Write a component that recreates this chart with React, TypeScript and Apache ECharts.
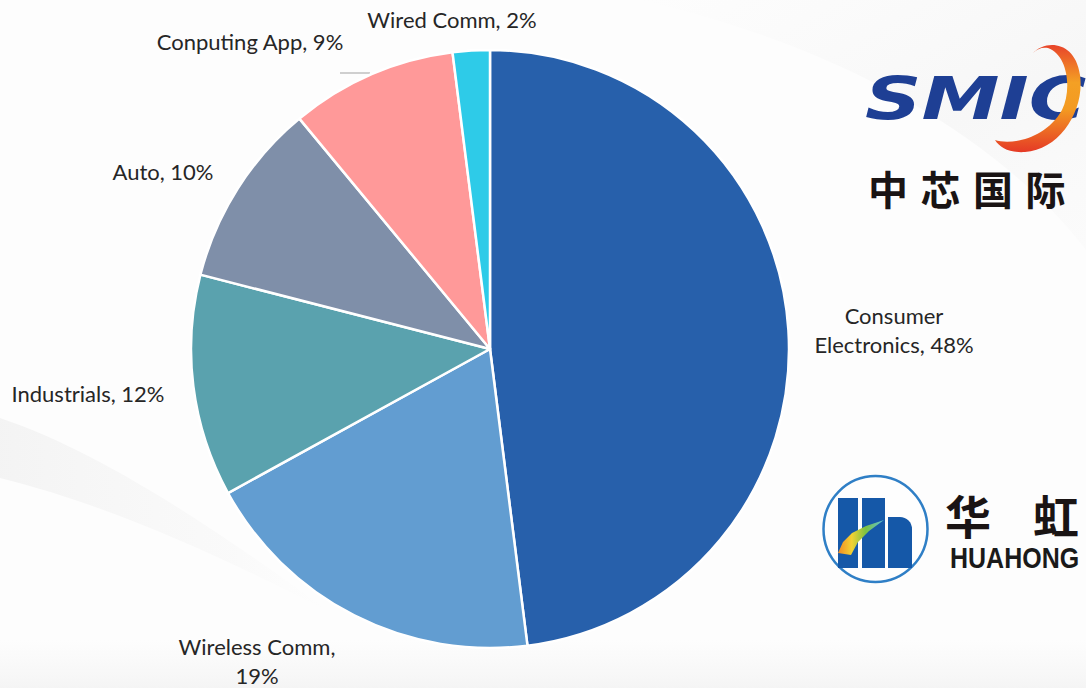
import React, { useEffect, useRef } from 'react';
import * as echarts from 'echarts';

// ---------- data ----------
const categories = ['Consumer Electronics', 'Wireless Comm', 'Industrials', 'Auto', 'Conputing App', 'Wired Comm'];
const shares = [48, 19, 12, 10, 9, 2];
const sliceColors = ['#2760AB', '#629DD1', '#5AA2AE', '#7F8FA9', '#FF9999', '#2ECBE8'];
// where each label wraps (token replaced by a line break), null = single line
const labelBreaks: (string | null)[] = [' ', ', ', null, null, null, null];
// label anchor (centre of text block)
const labelPos: [number, number][] = [
  [894, 330],
  [257, 661],
  [88, 393],
  [163, 171],
  [250, 41],
  [452, 19],
];
const smicChars = ['中', '芯', '国', '际'];

// ---------- shapes ----------
const arcPath =
  'M1033 53 C1045 40 1075 40 1080 75 C1085 110 1060 150 1025 152 C1010 153 1000 148 995 140 ' +
  'C1010 145 1045 140 1062 110 C1072 90 1068 55 1048 48 C1042 47 1037 49 1033 53 Z';
const swooshPath =
  'M0 418 C110 455 230 540 335 615 C230 560 110 505 0 478 Z';
const topSwooshPath =
  'M640 0 L1086 0 L1086 250 C1010 150 860 50 640 0 Z';

let registered = false;
function registerShapes() {
  if (registered) return;
  registered = true;
  echarts.graphic.registerShape('smicArc', echarts.graphic.extendPath(arcPath, {}) as any);
  echarts.graphic.registerShape('swooshA', echarts.graphic.extendPath(swooshPath, {}) as any);
  echarts.graphic.registerShape('swooshB', echarts.graphic.extendPath(topSwooshPath, {}) as any);
}

const LABEL_FONT = 'Lato, "Open Sans", sans-serif';

export default function App() {
  const ref = useRef<HTMLDivElement>(null);

  useEffect(() => {
    if (!ref.current) return;
    registerShapes();
    const chart = echarts.init(ref.current, undefined, { renderer: 'svg' });

    const data = categories.map((name, i) => ({
      name,
      value: shares[i],
      itemStyle: { color: sliceColors[i] },
    }));

    const graphic: any[] = [
      // background swooshes
      {
        type: 'swooshB', x: 0, y: 0, z: -10, silent: true,
        style: {
          fill: { type: 'linear', x: 0, y: 0, x2: 1, y2: 1, colorStops: [
            { offset: 0, color: 'rgba(238,238,238,0)' },
            { offset: 0.6, color: 'rgba(236,236,236,0.35)' },
            { offset: 1, color: 'rgba(240,240,240,0.15)' },
          ] },
        },
      },
      {
        type: 'swooshA', x: 0, y: 0, z: -10, silent: true,
        style: {
          fill: { type: 'linear', x: 0, y: 0, x2: 1, y2: 0, colorStops: [
            { offset: 0, color: 'rgba(232,232,232,0.45)' },
            { offset: 0.7, color: 'rgba(242,242,242,0.3)' },
            { offset: 1, color: 'rgba(250,250,250,0)' },
          ] },
        },
      },
      {
        type: 'rect', z: -10, silent: true,
        shape: { x: 0, y: 640, width: 1086, height: 48 },
        style: {
          fill: { type: 'linear', x: 0, y: 0, x2: 0, y2: 1, colorStops: [
            { offset: 0, color: 'rgba(240,240,240,0)' },
            { offset: 1, color: 'rgba(236,236,236,0.5)' },
          ] },
        },
      },
      // leader line of Computing App label
      {
        type: 'line', silent: true,
        shape: { x1: 340, y1: 73, x2: 370, y2: 73 },
        style: { stroke: '#BFBFBF', lineWidth: 1.5 },
      },
      // SMIC logo
      {
        type: 'text', x: 865, y: 99, scaleX: 1.33, silent: true,
        style: {
          text: 'SMIC',
          font: 'italic bold 59px "DejaVu Sans"',
          fill: '#1E3F94',
          verticalAlign: 'middle',
          align: 'left',
        },
      },
      {
        type: 'smicArc', x: 0, y: 0, silent: true,
        style: {
          fill: { type: 'linear', x: 0, y: 0, x2: 0, y2: 1, colorStops: [
            { offset: 0, color: '#E8442A' },
            { offset: 0.35, color: '#F4A024' },
            { offset: 0.6, color: '#F39A22' },
            { offset: 1, color: '#E53A26' },
          ] },
        },
      },
      ...smicChars.map((c, i) => ({
        type: 'text', x: 888 + i * 52.5, y: 188, silent: true,
        style: {
          text: c,
          font: 'bold 40px "Noto Sans CJK SC"',
          fill: '#1A1414',
          align: 'center',
          verticalAlign: 'middle',
        },
      })),
      // HUAHONG logo
      {
        type: 'ellipse', silent: true,
        shape: { cx: 875.5, cy: 529, rx: 52, ry: 53 },
        style: { fill: 'rgba(255,255,255,0.6)', stroke: '#2F7FC6', lineWidth: 2.5 },
      },
      { type: 'rect', silent: true, shape: { x: 838, y: 498, width: 20, height: 70 }, style: { fill: '#1558A8' } },
      { type: 'rect', silent: true, shape: { x: 862, y: 498, width: 23, height: 70 }, style: { fill: '#1558A8' } },
      { type: 'rect', silent: true, shape: { x: 888, y: 517, width: 24, height: 51, r: [0, 12, 0, 0] }, style: { fill: '#1558A8' } },
      {
        type: 'polygon', silent: true,
        shape: { points: [[838, 553], [843, 542], [852, 533], [866, 526], [884, 520], [869, 531], [858, 542], [851, 555]] },
        style: {
          fill: { type: 'linear', x: 0, y: 0, x2: 1, y2: 0, colorStops: [
            { offset: 0, color: '#F08A24' },
            { offset: 0.3, color: '#F2D233' },
            { offset: 0.6, color: '#7CC242' },
            { offset: 1, color: '#5BC0DE' },
          ] },
        },
      },
      {
        type: 'text', x: 945, y: 514, silent: true,
        style: { text: '华', font: 'bold 46px "Noto Sans CJK SC"', fill: '#1A1414', align: 'left', verticalAlign: 'middle' },
      },
      {
        type: 'text', x: 1033, y: 514, silent: true,
        style: { text: '虹', font: 'bold 46px "Noto Sans CJK SC"', fill: '#1A1414', align: 'left', verticalAlign: 'middle' },
      },
      {
        type: 'text', x: 950, y: 558, scaleY: 1.15, silent: true,
        style: { text: 'HUAHONG', font: 'bold 25px "Liberation Sans"', fill: '#1A1A1A', align: 'left', verticalAlign: 'middle' },
      },
    ];

    chart.setOption({
      animation: false,
      backgroundColor: '#FDFDFD',
      graphic,
      series: [
        {
          type: 'pie',
          center: [490, 349],
          radius: 299,
          startAngle: 90,
          clockwise: true,
          avoidLabelOverlap: false,
          z: 2,
          itemStyle: { borderColor: '#FFFFFF', borderWidth: 2.5 },
          label: {
            show: true,
            position: 'outside',
            color: '#262626',
            fontFamily: LABEL_FONT,
            fontSize: 22,
            lineHeight: 29,
            align: 'center',
            formatter: (p: any) => {
              const txt = `${p.name}, ${p.value}%`;
              const br = labelBreaks[p.dataIndex];
              if (!br) return txt;
              const idx = txt.indexOf(br);
              return txt.slice(0, idx) + br.trimEnd() + '\n' + txt.slice(idx + br.length);
            },
          },
          labelLine: { show: false },
          labelLayout: (params: any) => {
            const p = labelPos[params.dataIndex];
            return { x: p[0], y: p[1], align: 'center', verticalAlign: 'middle' };
          },
          emphasis: { disabled: true },
          data,
        },
      ],
    });

    return () => chart.dispose();
  }, []);

  return (
    <div
      ref={ref}
      style={{ position: 'fixed', left: 0, top: 0, width: 1086, height: 688 }}
    />
  );
}
